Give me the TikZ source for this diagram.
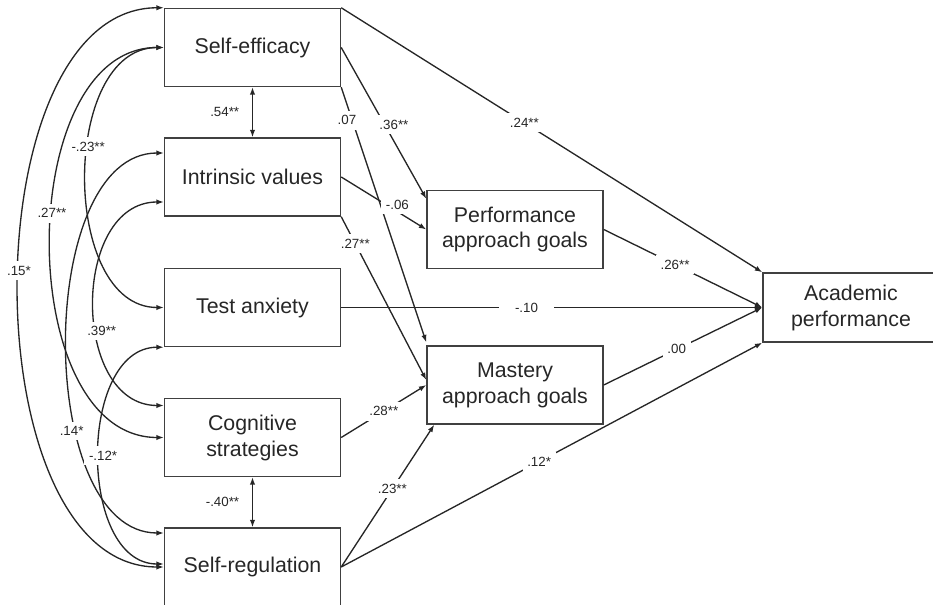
\documentclass[tikz,border=0pt]{standalone}
\usepackage{fontspec}
\setmainfont{Liberation Sans}
\usetikzlibrary{arrows.meta,calc}
\begin{document}
\begin{tikzpicture}[x=0.75pt,y=-0.75pt,
  varbox/.style={draw=black!75,line width=1.1pt,minimum width=132pt,minimum height=58.5pt,align=center,font=\fontsize{16}{19.5}\selectfont,text=black!85,inner sep=0pt},
  reg/.style={draw=black!85,line width=1pt,-{Latex[length=5.5pt,width=4pt]}},
  cov/.style={draw=black!85,line width=1pt,{Latex[length=5.5pt,width=4pt]}-{Latex[length=5.5pt,width=4pt]}},
  lab/.style={fill=white,font=\fontsize{10}{12}\selectfont,inner sep=3.5pt,text=black!85}]
\useasboundingbox (0,0) rectangle (933,605);

\node[varbox] (se) at (252.5,47.5) {Self-efficacy};
\node[varbox] (iv) at (252.5,177) {Intrinsic values};
\node[varbox] (ta) at (252.5,307.5) {Test anxiety};
\node[varbox] (cs) at (252.5,437.5) {Cognitive\\strategies};
\node[varbox] (sr) at (252.5,567) {Self-regulation};
\node[varbox] (pa) at (515,229.5) {Performance\\approach goals};
\node[varbox] (ma) at (515,385) {Mastery\\approach goals};
\node[varbox,minimum height=51.75pt] (ap) at (851,307.5) {Academic\\performance};

% covariances
\draw[cov] (se.north west) to[out=180,in=180,looseness=0.887] node[lab,pos=0.48]{.15*} (sr.west);
\draw[cov] (se.west) to[out=180,in=180,looseness=0.99] node[lab,pos=0.45]{.27**} (cs.west);
\draw[cov] (se.west) to[out=180,in=180,looseness=1.02] node[lab,pos=0.42]{-.23**} (ta.west);
\draw[cov] ($(iv.west)+(0,-24)$) to[out=180,in=180,looseness=0.87] node[lab,pos=0.66,xshift=-4pt]{.14*} ($(sr.west)+(0,-34)$);
\draw[cov] ($(iv.west)+(0,25)$) to[out=180,in=180,looseness=1.17] node[lab,pos=0.59,xshift=4pt]{.39**} ($(cs.west)+(0,-32)$);
\draw[cov] (ta.south west) to[out=180,in=180,looseness=1.02] node[lab,pos=0.5,xshift=3pt]{-.12*} ($(sr.west)+(0,-3)$);

\draw[cov] (se.south) -- node[lab,left=6pt]{.54**} (iv.north);
\draw[cov] (cs.south) -- node[lab,left=6pt]{-.40**} (sr.north);

% regressions
\draw[reg] (se.north east) -- node[lab,pos=0.435]{.24**} (ap.north west);
\draw[reg] (se.east) -- node[lab,pos=0.51,xshift=7pt]{.36**} ($(pa.north west)+(0,9)$);
\draw[reg] (se.south east) -- node[lab,pos=0.13,xshift=-4pt]{.07} ($(ma.north west)+(0,-3)$);
\draw[reg] (iv.east) -- node[lab,pos=0.66,yshift=5pt]{-.06} (pa.west);
\draw[reg] (iv.south east) -- node[lab,pos=0.165]{.27**} ($(ma.west)+(0,-5)$);
\draw[reg] (ta.east) -- node[lab,pos=0.44,inner xsep=12pt]{-.10} (ap.west);
\draw[reg] (cs.east) -- node[lab,pos=0.5]{.28**} (ma.west);
\draw[reg] (sr.east) -- node[lab,pos=0.55]{.23**} ($(ma.south west)+(8,0)$);
\draw[reg] (sr.east) -- node[lab,pos=0.47]{.12*} (ap.south west);
\draw[reg] (pa.east) -- node[lab,pos=0.45]{.26**} (ap.west);
\draw[reg] (ma.east) -- node[lab,pos=0.46]{.00} (ap.west);
\end{tikzpicture}
\end{document}
